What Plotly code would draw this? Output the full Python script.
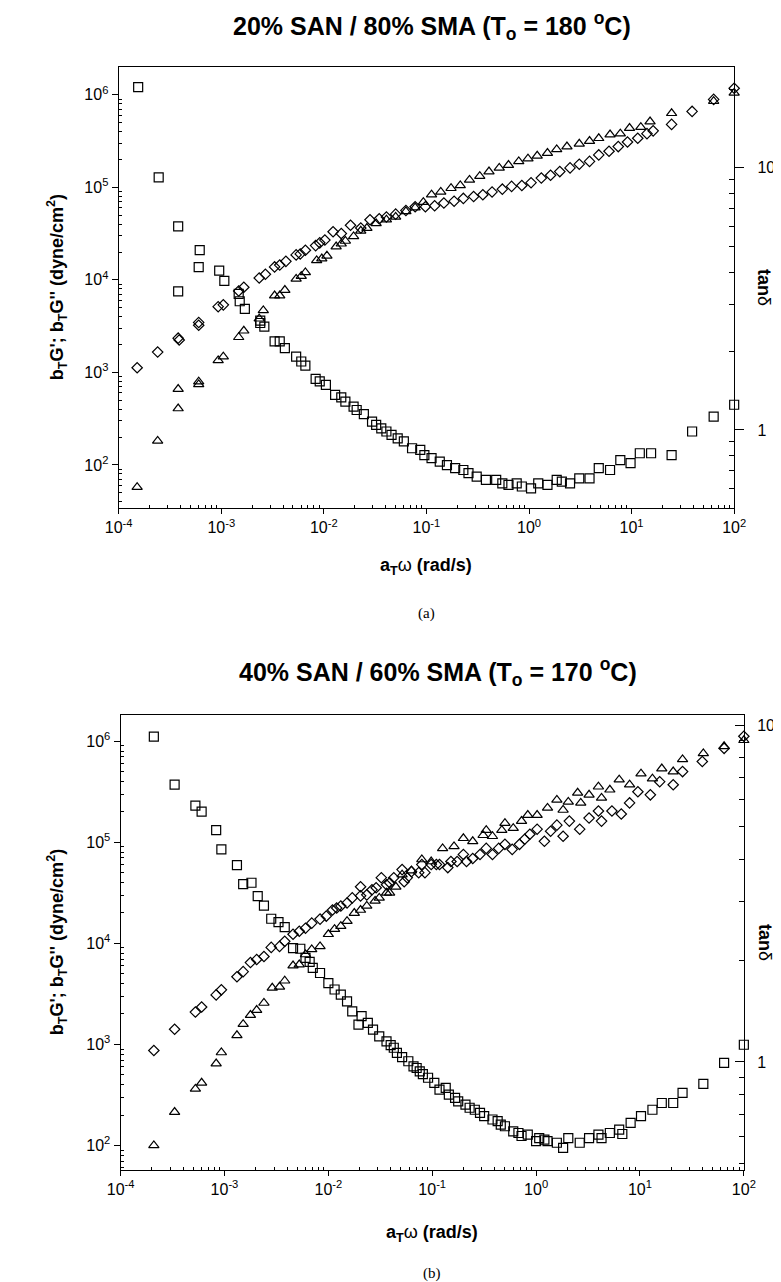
import plotly.graph_objects as go

# ---------------- data: (log10 aT*omega, log10 value) ----------------
# Panel (a): 20% SAN / 80% SMA
top_Gpp = [(-3.82,3.05),(-3.62,3.22),(-3.42,3.37),(-3.41,3.35),(-3.22,3.54),(-3.22,3.51),(-3.03,3.71),(-2.98,3.73),
           (-2.83,3.88),(-2.78,3.92),(-2.63,4.02),(-2.57,4.06),(-2.48,4.14),(-2.43,4.16),(-2.37,4.20),(-2.27,4.27),
           (-2.23,4.28),(-2.18,4.32),(-2.08,4.37),(-2.04,4.40),(-1.99,4.43),(-1.91,4.52),(-1.83,4.50),(-1.74,4.59),
           (-1.64,4.56),(-1.55,4.65),(-1.46,4.66),(-1.39,4.68),(-1.30,4.71),(-1.20,4.75),(-1.11,4.79),(-1.01,4.79),
           (-0.92,4.80),(-0.83,4.83),(-0.73,4.85),(-0.64,4.88),(-0.54,4.90),(-0.45,4.92),(-0.36,4.95),(-0.26,4.98),
           (-0.17,5.01),(-0.07,5.02),(0.02,5.05),(0.12,5.10),(0.21,5.13),(0.30,5.17),(0.40,5.21),(0.49,5.25),
           (0.59,5.28),(0.68,5.35),(0.78,5.39),(0.87,5.44),(0.96,5.49),(1.06,5.53),(1.15,5.58),(1.21,5.61),
           (1.39,5.68),(1.59,5.82),(1.80,5.95),(2.00,6.07)]
top_Gp = [(-3.82,1.76),(-3.62,2.26),(-3.42,2.61),(-3.42,2.82),(-3.22,2.90),(-3.22,2.87),(-3.03,3.13),(-2.98,3.17),
          (-2.83,3.38),(-2.78,3.45),(-2.63,3.58),(-2.59,3.67),(-2.48,3.83),(-2.43,3.83),(-2.38,3.89),(-2.27,4.01),
          (-2.22,4.04),(-2.18,4.08),(-2.07,4.21),(-2.02,4.23),(-1.97,4.26),(-1.88,4.36),(-1.83,4.39),(-1.79,4.42),
          (-1.71,4.47),(-1.64,4.53),(-1.58,4.56),(-1.49,4.61),(-1.39,4.65),(-1.30,4.68),(-1.20,4.74),(-1.11,4.78),
          (-1.03,4.84),(-0.95,4.92),(-0.86,4.95),(-0.76,4.99),(-0.67,5.02),(-0.58,5.08),(-0.48,5.12),(-0.39,5.17),
          (-0.29,5.21),(-0.20,5.24),(-0.10,5.28),(-0.01,5.31),(0.08,5.34),(0.18,5.37),(0.27,5.41),(0.37,5.44),
          (0.49,5.47),(0.59,5.50),(0.68,5.53),(0.79,5.57),(0.89,5.58),(0.98,5.64),(1.09,5.65),(1.18,5.71),
          (1.39,5.80),(1.80,5.93),(2.00,6.02)]
top_tan = [(-3.81,1.308),(-3.61,0.964),(-3.42,0.777),(-3.42,0.529),(-3.21,0.686),(-3.22,0.621),(-3.02,0.608),
           (-2.97,0.569),(-2.83,0.519),(-2.82,0.491),(-2.77,0.462),(-2.62,0.417),(-2.62,0.408),(-2.58,0.394),
           (-2.48,0.338),(-2.43,0.338),(-2.38,0.312),(-2.27,0.280),(-2.22,0.261),(-2.18,0.245),(-2.08,0.195),
           (-2.04,0.185),(-1.98,0.172),(-1.89,0.134),(-1.83,0.124),(-1.79,0.108),(-1.71,0.089),(-1.68,0.076),
           (-1.61,0.060),(-1.53,0.032),(-1.49,0.019),(-1.44,0.006),(-1.39,-0.006),(-1.34,-0.019),(-1.28,-0.032),
           (-1.22,-0.044),(-1.14,-0.070),(-1.06,-0.076),(-1.02,-0.096),(-0.95,-0.108),(-0.87,-0.121),(-0.80,-0.134),
           (-0.72,-0.146),(-0.64,-0.153),(-0.59,-0.165),(-0.51,-0.178),(-0.42,-0.191),(-0.32,-0.191),(-0.26,-0.204),
           (-0.20,-0.210),(-0.12,-0.204),(-0.07,-0.216),(0.02,-0.223),(0.09,-0.204),(0.18,-0.210),(0.27,-0.191),
           (0.32,-0.197),(0.40,-0.204),(0.49,-0.185),(0.59,-0.185),(0.68,-0.146),(0.79,-0.153),(0.89,-0.115),
           (0.99,-0.127),(1.08,-0.089),(1.19,-0.089),(1.39,-0.096),(1.59,-0.006),(1.80,0.051),(2.00,0.096)]

# Panel (b): 40% SAN / 60% SMA
bot_Gpp = [(-3.68,2.94),(-3.48,3.15),(-3.28,3.32),(-3.22,3.37),(-3.08,3.49),(-3.03,3.54),(-2.88,3.67),(-2.82,3.72),
           (-2.75,3.81),(-2.69,3.84),(-2.62,3.87),(-2.55,3.96),(-2.47,3.97),(-2.42,4.02),(-2.34,4.09),(-2.28,4.12),
           (-2.22,4.15),(-2.16,4.20),(-2.08,4.24),(-2.02,4.27),(-1.96,4.33),(-1.92,4.35),(-1.88,4.37),(-1.82,4.40),
           (-1.77,4.45),(-1.69,4.56),(-1.69,4.47),(-1.63,4.48),(-1.58,4.53),(-1.54,4.55),(-1.49,4.65),(-1.44,4.58),
           (-1.41,4.60),(-1.37,4.65),(-1.29,4.73),(-1.27,4.61),(-1.24,4.65),(-1.20,4.71),(-1.13,4.70),(-1.10,4.78),
           (-1.07,4.70),(-1.01,4.78),(-0.96,4.78),(-0.93,4.78),(-0.85,4.75),(-0.82,4.81),(-0.76,4.81),(-0.70,4.88),
           (-0.67,4.81),(-0.61,4.84),(-0.54,4.88),(-0.48,4.94),(-0.42,4.88),(-0.36,4.94),(-0.30,4.98),(-0.23,4.93),
           (-0.16,4.98),(-0.11,5.03),(-0.06,5.08),(0.01,5.13),(0.08,5.01),(0.14,5.11),(0.20,5.17),(0.26,5.06),
           (0.32,5.21),(0.42,5.13),(0.51,5.24),(0.60,5.31),(0.63,5.21),(0.73,5.31),(0.82,5.28),(0.90,5.39),
           (0.98,5.50),(1.10,5.47),(1.19,5.60),(1.32,5.57),(1.41,5.70),(1.60,5.80),(1.81,5.93),(2.00,6.05)]
bot_Gp = [(-3.68,2.00),(-3.48,2.33),(-3.28,2.56),(-3.22,2.62),(-3.08,2.81),(-3.03,2.92),(-2.88,3.09),(-2.82,3.20),
          (-2.75,3.29),(-2.69,3.34),(-2.62,3.41),(-2.54,3.56),(-2.47,3.57),(-2.42,3.63),(-2.34,3.78),(-2.28,3.79),
          (-2.22,3.89),(-2.16,3.94),(-2.08,3.97),(-2.00,4.09),(-1.94,4.14),(-1.88,4.17),(-1.82,4.22),(-1.75,4.30),
          (-1.69,4.33),(-1.63,4.37),(-1.55,4.42),(-1.51,4.45),(-1.44,4.50),(-1.41,4.50),(-1.35,4.56),(-1.29,4.68),
          (-1.20,4.72),(-1.10,4.83),(-1.01,4.81),(-0.90,4.94),(-0.79,4.96),(-0.70,5.04),(-0.61,5.01),(-0.51,5.07),
          (-0.48,5.12),(-0.42,5.06),(-0.33,5.12),(-0.30,5.19),(-0.22,5.14),(-0.14,5.21),(-0.08,5.27),(0.01,5.27),
          (0.11,5.34),(0.20,5.42),(0.26,5.32),(0.31,5.40),(0.40,5.49),(0.43,5.39),(0.51,5.47),(0.60,5.55),
          (0.63,5.44),(0.71,5.52),(0.80,5.62),(0.90,5.57),(1.01,5.68),(1.12,5.63),(1.21,5.73),(1.32,5.70),
          (1.41,5.82),(1.61,5.88),(1.81,5.95),(2.00,6.01)]
bot_tan = [(-3.68,0.966),(-3.48,0.823),(-3.28,0.761),(-3.22,0.743),(-3.08,0.688),(-3.03,0.631),(-2.88,0.584),
           (-2.82,0.528),(-2.74,0.532),(-2.68,0.492),(-2.62,0.464),(-2.55,0.425),(-2.48,0.415),(-2.42,0.400),
           (-2.34,0.338),(-2.27,0.336),(-2.22,0.309),(-2.18,0.297),(-2.15,0.279),(-2.08,0.264),(-2.00,0.234),
           (-1.94,0.215),(-1.88,0.200),(-1.82,0.180),(-1.77,0.150),(-1.71,0.111),(-1.68,0.136),(-1.62,0.116),
           (-1.57,0.096),(-1.51,0.076),(-1.44,0.061),(-1.40,0.050),(-1.37,0.042),(-1.34,0.027),(-1.29,0.014),
           (-1.23,0.002),(-1.18,-0.013),(-1.15,-0.018),(-1.12,-0.028),(-1.09,-0.036),(-1.04,-0.047),(-0.98,-0.062),
           (-0.93,-0.082),(-0.87,-0.077),(-0.84,-0.097),(-0.78,-0.107),(-0.75,-0.117),(-0.68,-0.127),(-0.64,-0.136),
           (-0.59,-0.142),(-0.54,-0.151),(-0.50,-0.161),(-0.42,-0.171),(-0.37,-0.176),(-0.34,-0.186),(-0.30,-0.191),
           (-0.22,-0.206),(-0.17,-0.211),(-0.14,-0.220),(-0.08,-0.216),(0.00,-0.235),(0.03,-0.226),(0.08,-0.231),
           (0.11,-0.235),(0.20,-0.240),(0.26,-0.255),(0.31,-0.226),(0.42,-0.240),(0.51,-0.226),(0.60,-0.216),
           (0.63,-0.226),(0.71,-0.211),(0.80,-0.201),(0.83,-0.214),(0.91,-0.181),(1.01,-0.161),(1.12,-0.142),
           (1.21,-0.122),(1.32,-0.122),(1.41,-0.092),(1.61,-0.065),(1.81,-0.003),(2.00,0.051)]

x_tick_exp = [-4, -3, -2, -1, 0, 1, 2]
g_tick_exp = [2, 3, 4, 5, 6]
tan_ticks = [1, 10]

titles = ["20% SAN / 80% SMA (T<sub>o</sub> = 180 <sup>o</sup>C)",
          "40% SAN / 60% SMA (T<sub>o</sub> = 170 <sup>o</sup>C)"]
panel_tags = ["(a)", "(b)"]

# ---------------- figure ----------------
W, H = 781, 1282
SANS = "Liberation Sans, Arial, Helvetica, sans-serif"
SERIF = "Liberation Serif, Times New Roman, serif"

def unlog(pairs):
    return [10 ** p[0] for p in pairs], [10 ** p[1] for p in pairs]

def minor_vals(e_lo, e_hi):
    return [m * 10.0 ** e for e in range(e_lo, e_hi + 1) for m in range(2, 10)]

fig = go.Figure()

def add_points(pairs, xa, ya, symbol, size):
    xs, ys = unlog(pairs)
    fig.add_trace(go.Scatter(x=xs, y=ys, xaxis=xa, yaxis=ya, mode="markers", cliponaxis=False,
                             showlegend=False, hoverinfo="skip",
                             marker=dict(symbol=symbol, size=size, color="black", line=dict(width=1.2))))

add_points(top_tan, "x", "y2", "square-open", 9)
add_points(top_Gpp, "x", "y", "diamond-open", 8)
add_points(top_Gp, "x", "y", "triangle-up-open", 9)
add_points(bot_tan, "x2", "y4", "square-open", 9)
add_points(bot_Gpp, "x2", "y3", "diamond-open", 8)
add_points(bot_Gp, "x2", "y3", "triangle-up-open", 9)

def px(v):
    return v / W

def py(v):
    return 1 - v / H

tickfont = dict(family=SANS, size=16, color="black")
xtext = ["10<sup>%d</sup>" % e for e in x_tick_exp]
gtext = ["10<sup>%d</sup>" % e for e in g_tick_exp]

panels = [
    dict(xd=(100, 736.7), yd=(59, 500), yl=(1.535, 6.30), yr=(-0.298, 1.385),
         rticks="outside", rstand=10, title_dy=41, xt_dy=58, tag_dy=106),
    dict(xd=(102, 746.7), yd=(707, 1161.7), yl=(1.76, 6.26), yr=(-0.32, 1.03),
         rticks="inside", rstand=9, title_dy=43, xt_dy=64, tag_dy=104),
]

for i, p in enumerate(panels):
    xk = "xaxis" if i == 0 else "xaxis2"
    yl = "yaxis" if i == 0 else "yaxis3"
    yr = "yaxis2" if i == 0 else "yaxis4"
    xname = "x" if i == 0 else "x2"
    ylname = "y" if i == 0 else "y3"
    fig.layout[xk] = dict(
        domain=[px(p["xd"][0]), px(p["xd"][1])], anchor=ylname, type="log", range=[-4, 2],
        tickmode="array", tickvals=[10 ** e for e in x_tick_exp], ticktext=xtext,
        ticks="outside", ticklen=5, tickwidth=1, tickcolor="black",
        minor=dict(tickmode="array", tickvals=minor_vals(-4, 1), ticks="inside", ticklen=3,
                   tickwidth=1, tickcolor="black", showgrid=False),
        showline=True, linecolor="black", linewidth=1.2, mirror=True,
        showgrid=False, zeroline=False, tickfont=tickfont)
    fig.layout[yl] = dict(
        domain=[py(p["yd"][1]), py(p["yd"][0])], anchor=xname, type="log", range=list(p["yl"]),
        tickmode="array", tickvals=[10 ** e for e in g_tick_exp], ticktext=gtext,
        ticks="outside", ticklen=6, tickwidth=1, tickcolor="black",
        minor=dict(tickmode="array", tickvals=minor_vals(1, 6), ticks="inside", ticklen=3,
                   tickwidth=1, tickcolor="black", showgrid=False),
        showline=True, linecolor="black", linewidth=1.2,
        showgrid=False, zeroline=False, tickfont=tickfont)
    fig.layout[yr] = dict(
        overlaying=ylname, anchor=xname, side="right", type="log", range=list(p["yr"]),
        tickmode="array", tickvals=tan_ticks, ticktext=[str(t) for t in tan_ticks],
        ticks=p["rticks"], ticklen=9, tickwidth=1, tickcolor="black", ticklabelstandoff=p["rstand"],
        minor=dict(tickmode="array", tickvals=minor_vals(-1, 1), ticks="inside", ticklen=5,
                   tickwidth=1, tickcolor="black", showgrid=False),
        showline=True, linecolor="black", linewidth=1.2,
        showgrid=False, zeroline=False, tickfont=tickfont)

    xc = (p["xd"][0] + p["xd"][1]) / 2
    yc = (p["yd"][0] + p["yd"][1]) / 2
    top, bot = p["yd"]
    ann = [
        dict(text="<b>" + titles[i] + "</b>", x=px(xc + 6), y=py(top - p["title_dy"]),
             font=dict(family=SANS, size=25, color="black")),
        dict(text="<b>b<sub>T</sub>G'; b<sub>T</sub>G'' (dyne/cm<sup>2</sup>)</b>", x=px(36), y=py(yc),
             textangle=-90, font=dict(family=SANS, size=18, color="black")),
        dict(text="<b>tan</b>δ", x=px(768), y=py(yc), textangle=90,
             font=dict(family=SANS, size=18, color="black")),
        dict(text="<b>a<sub>T</sub></b>ω<b> (rad/s)</b>", x=px(xc), y=py(bot + p["xt_dy"]),
             font=dict(family=SANS, size=18, color="black")),
        dict(text=panel_tags[i], x=px(xc), y=py(bot + p["tag_dy"]),
             font=dict(family=SERIF, size=15, color="black")),
    ]
    for a in ann:
        fig.add_annotation(xref="paper", yref="paper", showarrow=False,
                           xanchor="center", yanchor="middle", **a)

fig.update_layout(width=W, height=H, autosize=False, margin=dict(l=0, r=0, t=0, b=0),
                  paper_bgcolor="white", plot_bgcolor="white", showlegend=False)

fig.write_html("out.html")
